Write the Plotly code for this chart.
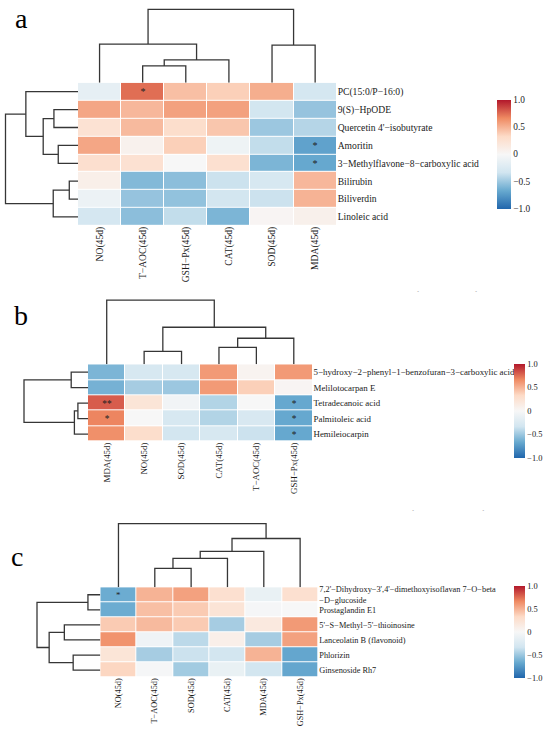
import plotly.graph_objects as go

W, H = 550, 734
FONT = "Liberation Serif"
LINE = "#363636"

# RdBu (7 classes) reversed: blue = negative, red = positive
RDBU = [[0.0, "#2166AC"], [1 / 6, "#67A9CF"], [2 / 6, "#D1E5F0"], [0.5, "#F7F7F7"],
        [4 / 6, "#FDDBC7"], [5 / 6, "#EF8A62"], [1.0, "#B2182B"]]

# ---- panel a ----
a_cols = ["NO(45d)", "T−AOC(45d)", "GSH−Px(45d)", "CAT(45d)", "SOD(45d)", "MDA(45d)"]
a_rows = ["PC(15:0/P−16:0)", "9(S)−HpODE", "Quercetin 4'−isobutyrate", "Amoritin",
          "3−Methylflavone−8−carboxylic acid", "Bilirubin", "Biliverdin", "Linoleic acid"]
a_vals = [
    [-0.15, 0.75, 0.45, 0.38, 0.52, -0.30],
    [0.55, 0.48, 0.57, 0.57, -0.32, -0.52],
    [0.25, 0.47, 0.30, 0.42, -0.50, -0.42],
    [0.55, 0.07, 0.38, -0.08, -0.38, -0.70],
    [0.28, 0.26, 0.00, 0.27, -0.60, -0.67],
    [0.10, -0.58, -0.55, -0.35, -0.28, 0.48],
    [-0.10, -0.52, -0.53, -0.32, -0.35, 0.50],
    [-0.30, -0.55, -0.38, -0.60, 0.03, 0.08],
]
a_sig = [
    ["", "*", "", "", "", ""],
    ["", "", "", "", "", ""],
    ["", "", "", "", "", ""],
    ["", "", "", "", "", "*"],
    ["", "", "", "", "", "*"],
    ["", "", "", "", "", ""],
    ["", "", "", "", "", ""],
    ["", "", "", "", "", ""],
]
# merges: (left, right, height); new cluster ids continue after the leaves
a_col_tree = [(1, 2, 17), (6, 3, 23), (0, 7, 39), (4, 5, 38), (8, 9, 74)]
a_row_tree = [(1, 2, 24), (3, 4, 19.7), (8, 9, 34.7), (0, 10, 52), (5, 6, 8.7),
              (12, 7, 24.7), (11, 13, 72.3)]

# ---- panel b ----
b_cols = ["MDA(45d)", "NO(45d)", "SOD(45d)", "CAT(45d)", "T−AOC(45d)", "GSH−Px(45d)"]
b_rows = ["5−hydroxy−2−phenyl−1−benzofuran−3−carboxylic acid", "Melilotocarpan E",
          "Tetradecanoic acid", "Palmitoleic acid", "Hemileiocarpin"]
b_vals = [
    [-0.60, -0.28, -0.28, 0.60, 0.05, 0.60],
    [-0.62, -0.47, -0.50, 0.60, 0.38, 0.03],
    [0.80, 0.22, -0.05, -0.43, 0.00, -0.67],
    [0.68, 0.00, -0.28, -0.43, -0.27, -0.67],
    [0.64, 0.30, -0.32, -0.28, -0.35, -0.67],
]
b_sig = [
    ["", "", "", "", "", ""],
    ["", "", "", "", "", ""],
    ["**", "", "", "", "", "*"],
    ["*", "", "", "", "", "*"],
    ["", "", "", "", "", "*"],
]
b_col_tree = [(1, 2, 13), (3, 4, 17), (7, 5, 26), (6, 8, 37), (0, 9, 64)]
b_row_tree = [(0, 1, 16.8), (2, 3, 10.1), (6, 4, 13.6), (5, 7, 64)]

# ---- panel c ----
c_cols = ["NO(45d)", "T−AOC(45d)", "SOD(45d)", "CAT(45d)", "MDA(45d)", "GSH−Px(45d)"]
c_rows = ["7,2'−Dihydroxy−3',4'−dimethoxyisoflavan 7−O−beta<br>−D−glucoside", "Prostaglandin E1",
          "5'−S−Methyl−5'−thioinosine", "Lanceolatin B (flavonoid)", "Phlorizin", "Ginsenoside Rh7"]
c_vals = [
    [-0.65, 0.50, 0.57, 0.27, -0.12, 0.27],
    [-0.65, 0.45, 0.40, 0.23, -0.02, 0.00],
    [0.40, 0.47, 0.40, -0.47, 0.17, 0.60],
    [0.63, -0.07, -0.40, 0.10, -0.47, 0.57],
    [0.22, -0.47, -0.35, -0.32, 0.50, -0.68],
    [0.35, -0.02, -0.48, -0.12, -0.32, -0.68],
]
c_sig = [
    ["*", "", "", "", "", ""],
    ["", "", "", "", "", ""],
    ["", "", "", "", "", ""],
    ["", "", "", "", "", ""],
    ["", "", "", "", "", ""],
    ["", "", "", "", "", ""],
]
c_col_tree = [(1, 2, 19), (6, 3, 29), (7, 4, 36), (8, 5, 49), (0, 9, 64)]
c_row_tree = [(0, 1, 12.3), (2, 3, 35.8), (4, 5, 27), (7, 8, 50.9), (6, 9, 63)]

# layout in pixels: heatmap box (x0, x1, y0, y1), dendrogram tops, colorbar box,
# panel letter (x, y, vertical anchor), font sizes
panels = [
    dict(label="a", cols=a_cols, rows=a_rows, z=a_vals, sig=a_sig, ctree=a_col_tree, rtree=a_row_tree,
         hm=(78, 336.7, 81, 224.5), col_top=7.3, row_left=5.5, cbar=(497, 511, 98, 207),
         letter=(21, 0, "top"), fs=9.6, cfs=9.3),
    dict(label="b", cols=b_cols, rows=b_rows, z=b_vals, sig=b_sig, ctree=b_col_tree, rtree=b_row_tree,
         hm=(88, 312.5, 363.3, 441), col_top=299, row_left=24, cbar=(514, 525, 363, 457),
         letter=(21, 314.5, "middle"), fs=8.9, cfs=8.4),
    dict(label="c", cols=c_cols, rows=c_rows, z=c_vals, sig=c_sig, ctree=c_col_tree, rtree=c_row_tree,
         hm=(100.3, 318.3, 586.8, 677.5), col_top=523, row_left=37, cbar=(514, 525, 586, 678),
         letter=(17, 556.5, "middle"), fs=8.3, cfs=8.4),
]


def dendro_lines(tree, n):
    pos = [float(i) for i in range(n)]
    hts = [0.0] * n
    p, h = [], []
    for a, b, height in tree:
        p += [pos[a], pos[a], pos[b], pos[b], None]
        h += [hts[a], height, height, hts[b], None]
        pos.append((pos[a] + pos[b]) / 2)
        hts.append(height)
    return p, h


def px_x(v):
    return v / W


def px_y(v):
    return 1 - v / H


fig = go.Figure()
layout = {}
n_ax = 0


def new_axes():
    global n_ax
    n_ax += 1
    s = "" if n_ax == 1 else str(n_ax)
    return "x" + s, "y" + s, "xaxis" + s, "yaxis" + s


PAD = 1.5  # px of room so the top dendrogram line is not clipped

for p in panels:
    x0, x1, y0, y1 = p["hm"]
    nc, nr = len(p["cols"]), len(p["rows"])
    cx0, cx1, cy0, cy1 = p["cbar"]
    tickfont = dict(family=FONT, size=p["fs"], color="#1a1a1a")

    # heatmap
    xa, ya, xk, yk = new_axes()
    fig.add_trace(go.Heatmap(
        z=p["z"], x=list(range(nc)), y=list(range(nr)),
        colorscale=RDBU, zmin=-1, zmax=1, xgap=1, ygap=1,
        text=p["sig"], texttemplate="%{text}",
        textfont=dict(family=FONT, size=p["fs"] + 0.5, color="#222222"),
        xaxis=xa, yaxis=ya,
        colorbar=dict(
            x=px_x(cx0), xanchor="left", xpad=0,
            y=px_y(cy0), yanchor="top", ypad=0,
            len=cy1 - cy0, lenmode="pixels",
            thickness=cx1 - cx0, thicknessmode="pixels",
            outlinewidth=0, ticks="",
            tickvals=[-1, -0.5, 0, 0.5, 1],
            ticktext=["−1.0", "−0.5", "0", "0.5", "1.0"],
            tickfont=dict(family=FONT, size=p["cfs"], color="#1a1a1a"),
        ),
        hoverinfo="skip",
    ))
    layout[xk] = dict(domain=[px_x(x0), px_x(x1)], range=[-0.5, nc - 0.5], anchor=ya,
                      tickvals=list(range(nc)), ticktext=p["cols"], tickangle=-90,
                      ticks="", showgrid=False, zeroline=False, showline=False,
                      tickfont=tickfont, ticklabelstandoff=-2)
    layout[yk] = dict(domain=[px_y(y1), px_y(y0)], range=[nr - 0.5, -0.5], anchor=xa,
                      side="right", tickvals=list(range(nr)), ticktext=p["rows"],
                      ticks="", showgrid=False, zeroline=False, showline=False,
                      tickfont=tickfont, ticklabelstandoff=0)

    # column dendrogram
    xa, ya, xk, yk = new_axes()
    cp, ch = dendro_lines(p["ctree"], nc)
    top = max(t[2] for t in p["ctree"])
    scale = top / (y0 - p["col_top"])
    fig.add_trace(go.Scatter(x=cp, y=ch, mode="lines", line=dict(color=LINE, width=1.3),
                             xaxis=xa, yaxis=ya, showlegend=False, hoverinfo="skip"))
    layout[xk] = dict(domain=[px_x(x0), px_x(x1)], range=[-0.5, nc - 0.5], anchor=ya, visible=False)
    layout[yk] = dict(domain=[px_y(y0), px_y(p["col_top"] - PAD)], range=[0, top + PAD * scale],
                      anchor=xa, visible=False)

    # row dendrogram
    xa, ya, xk, yk = new_axes()
    rp, rh = dendro_lines(p["rtree"], nr)
    top = max(t[2] for t in p["rtree"])
    scale = top / (x0 - p["row_left"])
    fig.add_trace(go.Scatter(x=rh, y=rp, mode="lines", line=dict(color=LINE, width=1.3),
                             xaxis=xa, yaxis=ya, showlegend=False, hoverinfo="skip"))
    layout[xk] = dict(domain=[px_x(p["row_left"] - PAD), px_x(x0)], range=[top + PAD * scale, 0],
                      anchor=ya, visible=False)
    layout[yk] = dict(domain=[px_y(y1), px_y(y0)], range=[nr - 0.5, -0.5], anchor=xa, visible=False)

annotations = []
for p in panels:
    lx, ly, anchor = p["letter"]
    annotations.append(dict(text=p["label"], x=px_x(lx), y=px_y(ly), xref="paper", yref="paper",
                            xanchor="center", yanchor=anchor, showarrow=False, borderpad=0,
                            font=dict(family=FONT, size=28, color="black")))

# faint specks left over in the source image
for sx, sy, ch in [(421, 292, "`"), (479, 292, "`"), (416, 517, "`"), (486, 517, "´")]:
    annotations.append(dict(text=ch, x=px_x(sx), y=px_y(sy), xref="paper", yref="paper",
                            showarrow=False, font=dict(family=FONT, size=7, color="#8a8a8a")))

fig.update_layout(
    width=W, height=H,
    margin=dict(l=0, r=0, t=0, b=0),
    paper_bgcolor="white", plot_bgcolor="white",
    showlegend=False,
    annotations=annotations,
    font=dict(family=FONT),
    **layout,
)

# the page's default body margin would push the figure 8px off the window
fig.write_html("out.html", config={"displayModeBar": False},
               post_script="document.body.style.margin='0';document.body.style.overflow='hidden';")
